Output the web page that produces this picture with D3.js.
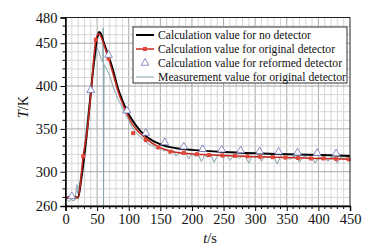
<!DOCTYPE html>
<html>
<head>
<meta charset="utf-8">
<script src="https://cdn.jsdelivr.net/npm/d3@7"></script>
<style>
  body { margin: 0; background: #fff; font-family: "Liberation Serif", serif; }
</style>
</head>
<body>
<svg id="chart" width="378" height="246" style="font-family:'Liberation Serif'"></svg>
<script>
// chart size
var width = 378;
var height = 246;
var serifStyle = "font-family:'Liberation Serif'";

// ---- data ----
// calculation, no detector (black line)
var noDetT = [0, 20, 25, 30, 35, 40, 45, 50, 53, 56, 60, 68, 75, 83, 90, 97, 105, 118, 130, 150, 175, 200, 250, 300, 350, 400, 450];
var noDetV = [270, 270, 292, 320, 353, 392, 428, 455, 463, 461, 452, 435, 419, 397, 383, 371, 361, 348, 340, 332, 327.5, 325.5, 323, 321.5, 320.5, 319.5, 318.5];

// calculation, original detector (red line + squares)
var origT = [0, 20, 28, 35, 40, 48, 52, 56, 60, 68, 75, 83, 90, 97, 107, 127, 147, 166, 187, 208, 250, 300, 350, 400, 450];
var origV = [270, 270, 318, 352, 390, 454, 461, 458, 450, 432, 415, 394, 380, 368, 354, 339, 329, 324, 321.5, 320.5, 319, 317.5, 316.5, 315.5, 314.5];
var origMarkT = [28, 48, 68, 107, 127, 147, 166, 187, 208, 227, 248, 268, 288, 308, 328, 348, 368, 388, 408, 428, 448];
var origMarkV = [318, 454, 432, 345, 337, 328.5, 323.5, 322, 320.5, 319.5, 319, 318.5, 318, 317.5, 317, 316.5, 316, 315.5, 315.5, 315, 314.5];

// calculation, reformed detector (hollow triangles)
var refT = [10, 40, 68, 97, 127, 157, 187, 217, 247, 277, 307, 337, 367, 398, 428];
var refV = [270, 394, 435, 370, 344, 333, 328, 325, 324.5, 323.5, 322.5, 322, 321, 320.5, 320];

// measurement, original detector (thin grey line)
var measT = [0, 3, 6, 9, 12, 15, 17, 18, 19, 22, 25, 30, 35, 40, 45, 50, 53, 56, 59, 59.6, 60.2, 61, 65, 70, 75, 80, 85, 90, 95, 100, 105, 110, 115, 120, 125, 130, 135, 140, 145, 150, 155, 160, 165, 170, 175, 180, 185, 190, 195, 200,
  205, 210, 215, 220, 225, 230, 235, 240, 245, 250, 255, 260, 265, 270, 275, 280, 285, 290, 295, 300, 305, 310, 315, 320, 325, 330, 335, 340, 345, 350,
  355, 360, 365, 370, 375, 380, 385, 390, 395, 400, 405, 410, 415, 420, 425, 430, 435, 440, 445, 450];
var measV = [266, 267, 265, 268, 266, 267, 280, 285, 275, 285, 300, 330, 365, 395, 425, 444, 440, 432, 428, 468, 260, 425, 420, 412, 400, 390, 382, 375, 367, 360, 352, 347, 343, 340, 336, 333, 331, 330, 326, 328, 324, 326, 321, 325, 318, 323, 320, 322, 315, 321,
  318, 320, 312, 319, 317, 320, 311, 318, 319, 316, 320, 313, 318, 319, 315, 319, 317, 310, 318, 317, 319, 312, 318, 316, 319, 317, 309, 318, 316, 318,
  314, 318, 317, 311, 317, 318, 315, 317, 310, 317, 316, 318, 312, 317, 316, 310, 317, 315, 317, 313];

var legendLabels = [
  "Calculation value for no detector",
  "Calculation value for original detector",
  "Calculation value for reformed detector",
  "Measurement value for original detector"
];
// widths the legend texts take in the picture
var legendWidths = [153, 177, 184, 188];

var xTicks = [0, 50, 100, 150, 200, 250, 300, 350, 400, 450];
var yTicks = [260, 300, 350, 400, 450, 480];

// ---- setup ----
const svg = d3.select("#chart");

var x = d3.scaleLinear().domain([0, 450]).range([65.5, 350]);
var y = d3.scaleLinear().domain([260, 480]).range([206, 17.5]);

// grid
var grid = svg.append("g");
grid.selectAll(".vgrid")
    .data(d3.range(10, 450, 10))
    .enter()
    .append("line")
    .attr("x1", d => x(d)).attr("x2", d => x(d))
    .attr("y1", y(260)).attr("y2", y(480))
    .attr("stroke", d => d % 50 === 0 ? "#a8a8a8" : "#d6d6d6")
    .attr("stroke-width", 1);
grid.selectAll(".hgrid")
    .data(d3.range(270, 480, 10))
    .enter()
    .append("line")
    .attr("x1", x(0)).attr("x2", x(450))
    .attr("y1", d => y(d)).attr("y2", d => y(d))
    .attr("stroke", d => d % 50 === 0 ? "#a8a8a8" : "#d6d6d6")
    .attr("stroke-width", 1);

// lines
var smooth = d3.line().curve(d3.curveMonotoneX).x(d => x(d[0])).y(d => y(d[1]));

svg.append("path")
   .datum(d3.zip(measT, measV))
   .attr("d", d3.line().x(d => x(d[0])).y(d => y(d[1])))
   .attr("fill", "none")
   .attr("stroke", "#86a4ac")
   .attr("stroke-width", 1);

svg.append("path")
   .datum(d3.zip(noDetT, noDetV))
   .attr("d", smooth)
   .attr("fill", "none")
   .attr("stroke", "#000")
   .attr("stroke-width", 2);

svg.append("path")
   .datum(d3.zip(origT, origV))
   .attr("d", smooth)
   .attr("fill", "none")
   .attr("stroke", "#c8281e")
   .attr("stroke-width", 1.5);

svg.append("g")
   .selectAll("rect")
   .data(d3.zip(origMarkT, origMarkV))
   .enter()
   .append("rect")
   .attr("x", d => x(d[0]) - 2)
   .attr("y", d => y(d[1]) - 2)
   .attr("width", 4)
   .attr("height", 4)
   .attr("fill", "#e0483a");

var tri = d3.symbol().type(d3.symbolTriangle).size(26);
svg.append("g")
   .selectAll("path")
   .data(d3.zip(refT, refV))
   .enter()
   .append("path")
   .attr("d", tri)
   .attr("transform", d => "translate(" + x(d[0]) + "," + (y(d[1]) - 1) + ")")
   .attr("fill", "#fff")
   .attr("stroke", "#7070b8")
   .attr("stroke-width", 0.8);

// frame
svg.append("rect")
   .attr("x", x(0)).attr("y", y(480))
   .attr("width", x(450) - x(0))
   .attr("height", y(260) - y(480))
   .attr("fill", "none")
   .attr("stroke", "#222")
   .attr("stroke-width", 1);

// axes
var xAxis = d3.axisBottom(x).tickValues(xTicks).tickSize(5).tickPadding(3);
var gx = svg.append("g")
   .attr("transform", "translate(0," + y(260) + ")")
   .call(xAxis);
gx.attr("font-family", null).attr("font-size", null);
gx.select(".domain").attr("stroke-width", 1.5);
gx.selectAll(".minor")
  .data(d3.range(10, 450, 10).filter(d => d % 50 !== 0))
  .enter()
  .append("line")
  .attr("class", "minor")
  .attr("x1", d => x(d)).attr("x2", d => x(d))
  .attr("y1", 0).attr("y2", 3)
  .attr("stroke", "#000");

var yAxis = d3.axisLeft(y).tickValues(yTicks).tickSize(5).tickPadding(3);
var gy = svg.append("g")
   .attr("transform", "translate(" + x(0) + ",0)")
   .call(yAxis);
gy.attr("font-family", null).attr("font-size", null);
gy.select(".domain").attr("stroke-width", 1.5);
gy.selectAll(".minor")
  .data(d3.range(270, 480, 10).filter(d => d % 50 !== 0))
  .enter()
  .append("line")
  .attr("class", "minor")
  .attr("x1", 0).attr("x2", -3)
  .attr("y1", d => y(d)).attr("y2", d => y(d))
  .attr("stroke", "#000");

svg.selectAll(".tick text")
   .attr("style", serifStyle)
   .attr("font-size", 14.5)
   .attr("fill", "#111");

// axis titles
svg.append("text")
   .attr("transform", "translate(28,107) rotate(-90)")
   .attr("text-anchor", "middle")
   .attr("style", serifStyle)
   .attr("font-size", 14.5)
   .attr("fill", "#111")
   .html("<tspan font-style='italic'>T</tspan>/K");

svg.append("text")
   .attr("x", 210)
   .attr("y", 243)
   .attr("text-anchor", "middle")
   .attr("style", serifStyle)
   .attr("font-size", 14.5)
   .attr("fill", "#111")
   .html("<tspan font-style='italic'>t</tspan>/s");

// legend
var lg = svg.append("g").attr("transform", "translate(133,27)");
lg.append("rect")
  .attr("width", 214).attr("height", 56)
  .attr("fill", "#fff")
  .attr("stroke", "#333")
  .attr("stroke-width", 1);

var rowY = d => 8 + d * 14;
// no detector
lg.append("line").attr("x1", 3).attr("x2", 21).attr("y1", rowY(0)).attr("y2", rowY(0))
  .attr("stroke", "#000").attr("stroke-width", 2);
// original
lg.append("line").attr("x1", 3).attr("x2", 21).attr("y1", rowY(1)).attr("y2", rowY(1))
  .attr("stroke", "#c8281e").attr("stroke-width", 1.5);
lg.append("rect").attr("x", 10).attr("y", rowY(1) - 2).attr("width", 4).attr("height", 4).attr("fill", "#e0483a");
// reformed
lg.append("path").attr("d", tri).attr("transform", "translate(12," + rowY(2) + ")")
  .attr("fill", "#fff").attr("stroke", "#7070b8").attr("stroke-width", 0.8);
// measurement
lg.append("line").attr("x1", 3).attr("x2", 21).attr("y1", rowY(3)).attr("y2", rowY(3))
  .attr("stroke", "#86a4ac").attr("stroke-width", 1);

lg.selectAll(".lab")
  .data(legendLabels)
  .enter()
  .append("text")
  .attr("x", 25)
  .attr("y", (d, i) => rowY(i) + 4)
  .attr("style", serifStyle)
  .attr("font-size", 12.5)
  .attr("textLength", (d, i) => legendWidths[i])
  .attr("lengthAdjust", "spacingAndGlyphs")
  .attr("fill", "#111")
  .text(d => d);
</script>
</body>
</html>
